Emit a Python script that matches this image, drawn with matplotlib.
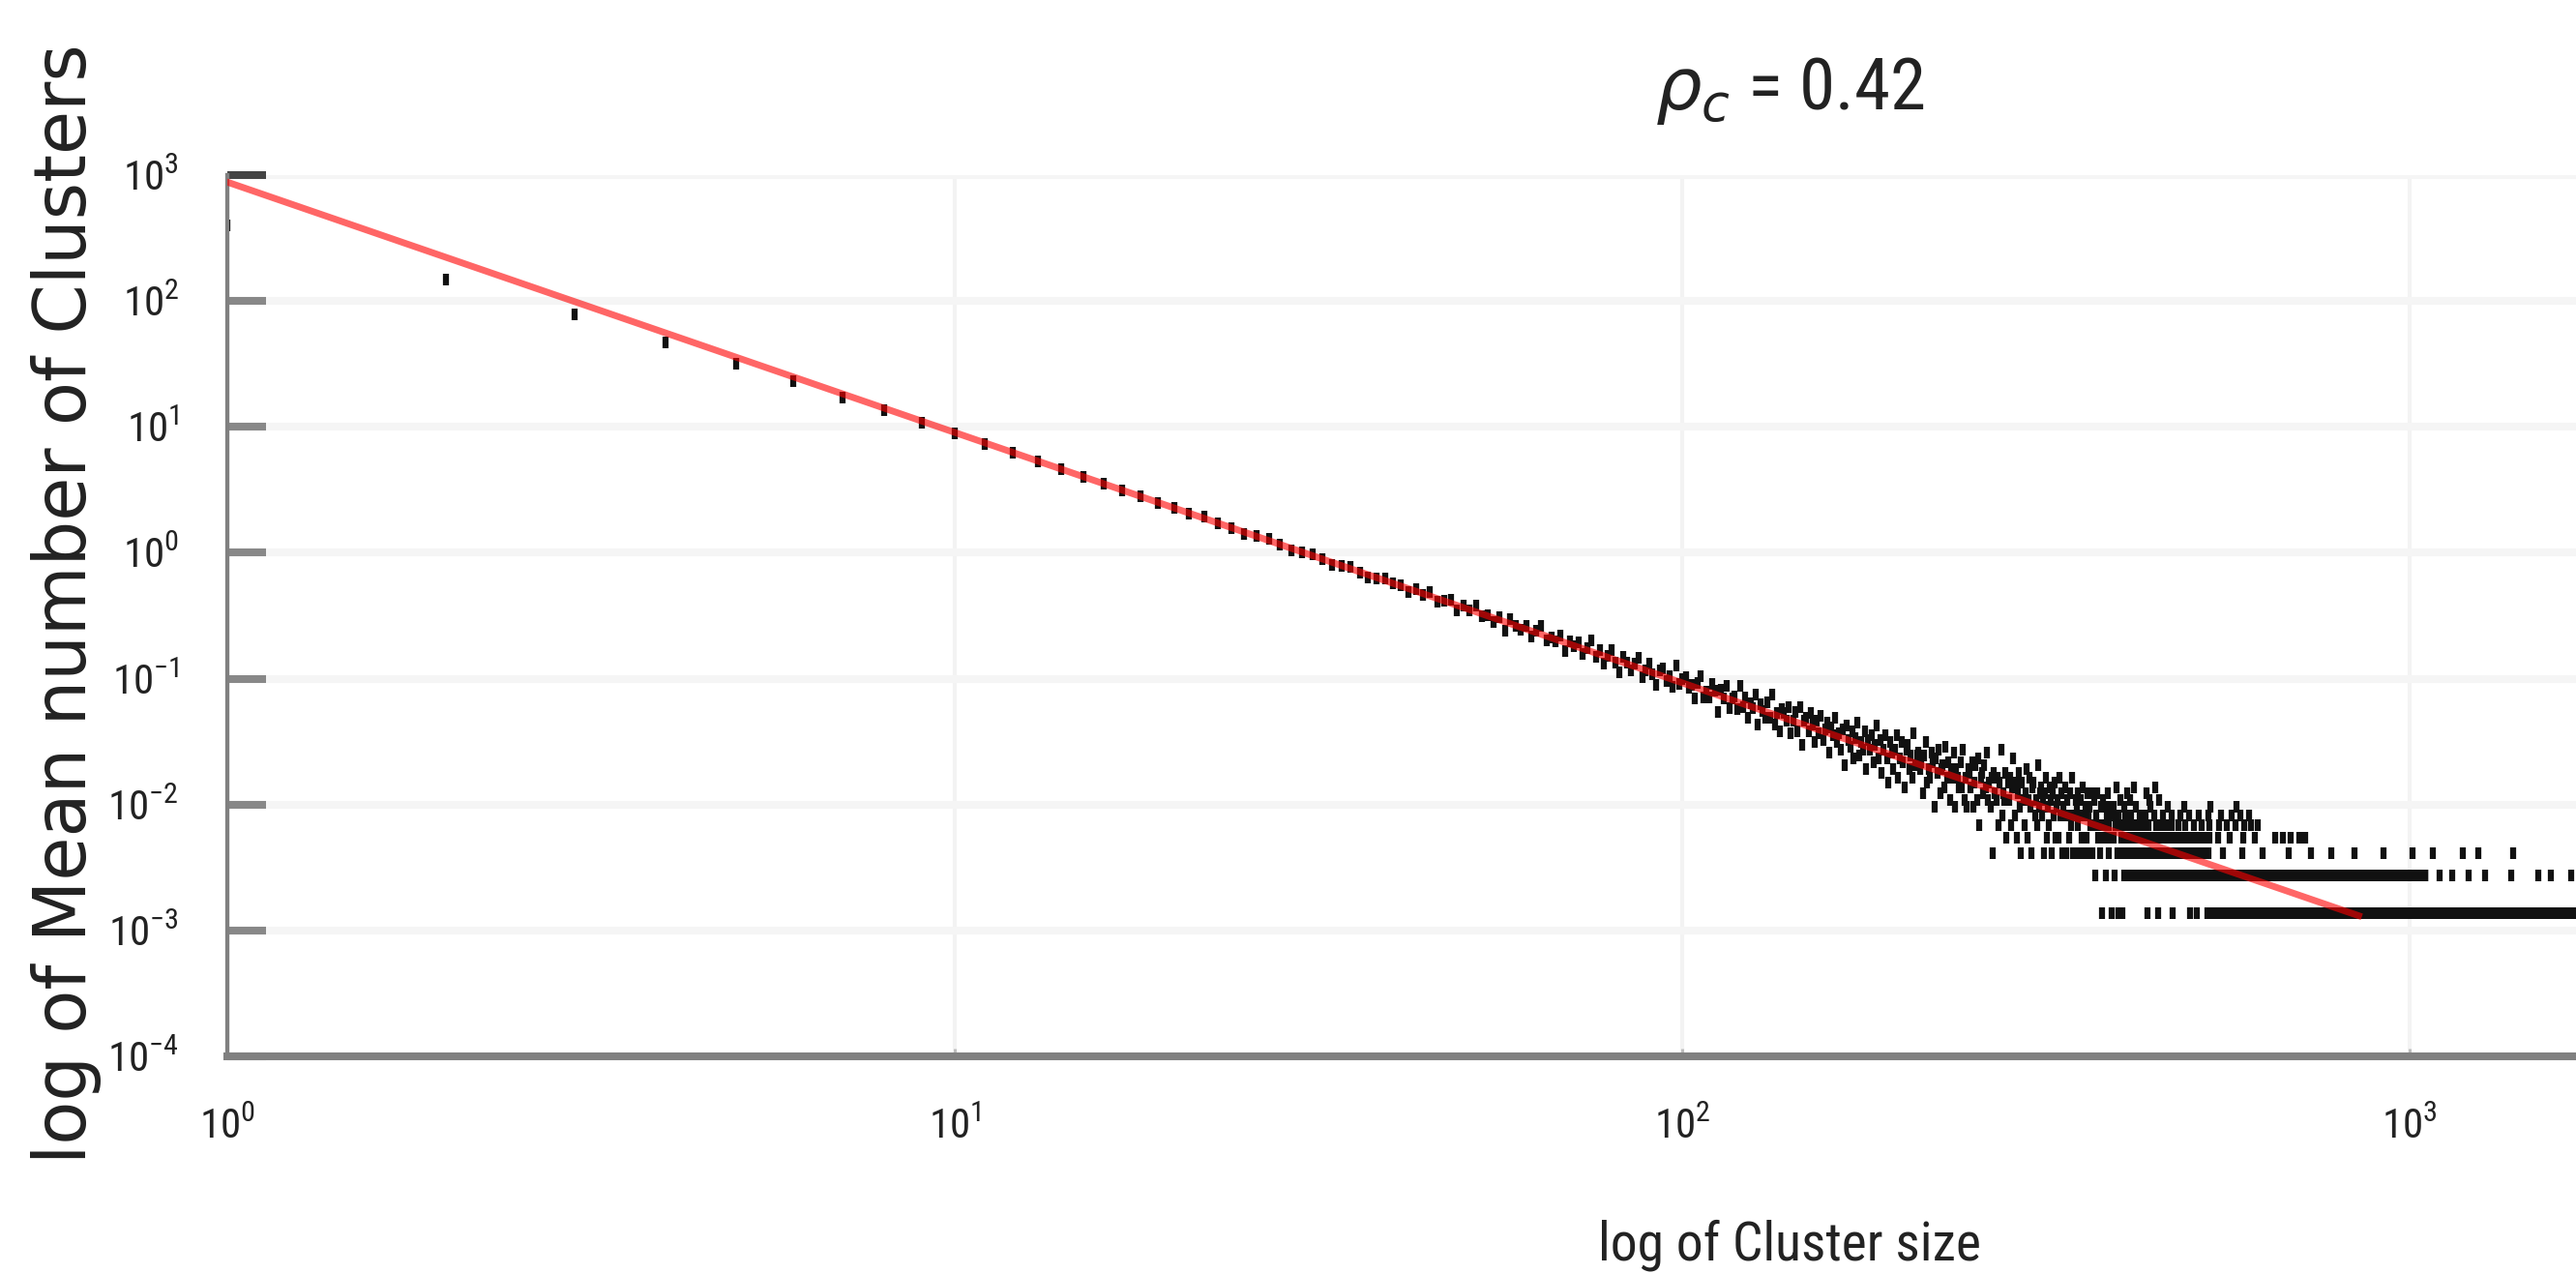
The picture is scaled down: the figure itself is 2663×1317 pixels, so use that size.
import matplotlib
matplotlib.use('Agg')
import matplotlib.pyplot as plt
from matplotlib.ticker import NullLocator
import numpy as np

plt.rcParams['font.family'] = ['Liberation Sans Narrow', 'Roboto Condensed', 'Noto Sans Condensed',
                               'Open Sans Condensed', 'DejaVu Sans Condensed', 'Liberation Sans',
                               'DejaVu Sans']
plt.rcParams['axes.unicode_minus'] = False

# number of simulation runs the counts are averaged over
n_runs = 735

# cluster sizes 1..40, mean number of clusters
sizes_head = np.arange(1, 41)
mean_head = [396, 148, 77.6, 47.0, 31.9, 23.0, 17.2, 13.5, 10.8, 8.85,
             7.36, 6.22, 5.31, 4.60, 4.02, 3.54, 3.12, 2.81, 2.50, 2.28,
             2.05, 1.93, 1.71, 1.58, 1.40, 1.35, 1.29, 1.17, 1.04, 1.01,
             0.98, 0.888, 0.80, 0.786, 0.775, 0.70, 0.64, 0.63, 0.625, 0.568]

# cluster sizes 41..400, total counts over all runs
sizes_body = np.arange(41, 401)
counts_body = [407, 357, 380, 340, 361, 303, 307, 311, 255, 279,
               257, 279, 231, 236, 208, 227, 178, 218, 194, 180,
               194, 159, 177, 193, 149, 156, 146, 163, 122, 146,
               132, 144, 115, 128, 148, 109, 124, 96, 111, 124,
               98, 83, 109, 98, 85, 97, 108, 76, 85, 97,
               79, 66, 85, 88, 70, 77, 63, 94, 67, 73,
               75, 62, 66, 51, 68, 77, 52, 58, 52, 67,
               59, 40, 60, 51, 64, 43, 51, 53, 42, 64,
               44, 52, 36, 47, 43, 55, 32, 46, 41, 36,
               48, 36, 55, 32, 39, 28, 42, 39, 34, 44,
               27, 34, 40, 28, 44, 22, 34, 36, 28, 39,
               32, 23, 34, 27, 37, 24, 29, 33, 19, 30,
               26, 36, 23, 27, 20, 29, 15, 31, 24, 21,
               28, 17, 25, 33, 18, 23, 20, 28, 14, 24,
               20, 26, 16, 22, 31, 17, 24, 13, 20, 26,
               17, 11, 23, 19, 14, 20, 26, 12, 17, 23,
               16, 10, 20, 22, 14, 18, 12, 27, 15, 18,
               19, 14, 16, 9, 18, 23, 11, 14, 12, 19,
               16, 7, 17, 13, 20, 9, 14, 15, 10, 21,
               12, 16, 8, 14, 12, 19, 7, 14, 12, 10,
               16, 10, 20, 8, 12, 7, 14, 13, 10, 16,
               7, 11, 15, 8, 17, 5, 12, 13, 9, 15,
               10, 19, 8, 11, 7, 12, 3, 13, 9, 8,
               12, 5, 11, 20, 6, 9, 8, 13, 4, 11,
               8, 12, 5, 10, 17, 6, 11, 4, 9, 13,
               7, 3, 11, 8, 5, 9, 14, 4, 8, 12,
               7, 3, 10, 11, 6, 8, 5, 15, 7, 9,
               10, 6, 8, 3, 9, 12, 4, 7, 5, 10,
               8, 3, 9, 6, 11, 4, 7, 8, 4, 12,
               6, 9, 3, 7, 6, 10, 3, 8, 6, 4,
               9, 5, 12, 3, 6, 3, 8, 7, 5, 9,
               3, 6, 8, 4, 10, 3, 6, 7, 4, 9,
               6, 3, 7, 5, 9, 3, 5, 8, 2, 6,
               5, 9, 4, 5, 3, 7, 1, 8, 5, 4,
               7, 2, 6, 9, 3, 5, 4, 7, 1, 6,
               4, 7, 2, 5, 10, 3, 6, 1, 5, 8]

# tail (> 400): the dense bands of small counts, as size ranges per count
band_count = [1, 2, 3, 4]
band_first = [530, 405, 401, 401]
band_last = [1700, 1050, 530, 530]
band_step = [1, 1, 2, 3]

# tail: single scattered sizes for each count level
tail_levels = [1, 2, 3, 4, 5, 6, 7, 8, 9, 10]
tail_sizes = [[402, 436, 451, 472, 499, 510, 527],
              [1097, 1144, 1205, 1270, 1379, 1499, 1563, 1663],
              [554, 589, 627, 681, 732, 779, 838, 920, 1009, 1076, 1181, 1243, 1384],
              [545, 566, 590, 612, 653, 668, 685, 705, 718],
              [403, 409, 415, 422, 430, 437, 448, 455, 462, 470, 480, 491, 505,
               517, 530, 547, 560, 575, 592, 605, 618],
              [406, 413, 425, 433, 445, 458, 471, 484, 497, 512, 528, 549, 568, 585, 600],
              [405, 420, 440, 465, 490, 532, 578],
              [412, 438, 452],
              [408, 434],
              [418, 446]]

# power-law fit drawn in red (end points)
fit_size = [1, 850]
fit_mean = [880, 1.31e-3]

xtick_vals = [1, 10, 100, 1000]
ytick_vals = [1e-4, 1e-3, 1e-2, 1e-1, 1, 10, 100, 1000]

# collect every point
xs = [sizes_head, sizes_body]
ys = [np.array(mean_head), np.array(counts_body) / n_runs]
for c, a, b, st in zip(band_count, band_first, band_last, band_step):
    s = np.arange(a, b + 1, st)
    xs.append(s)
    ys.append(np.full(len(s), c / n_runs))
for c, s in zip(tail_levels, tail_sizes):
    xs.append(np.array(s))
    ys.append(np.full(len(s), c / n_runs))
x_all = np.concatenate(xs)
y_all = np.concatenate(ys)

fig = plt.figure(figsize=(26.63, 13.17), dpi=100)
# the plot box runs on past the right edge of the picture
ax = fig.add_axes([235 / 2663, 1 - 1092 / 1317, 3230 / 2663, 911 / 1317])
ax.set_xscale('log')
ax.set_yscale('log')

ax.plot(x_all, y_all, ls='none', marker='|', ms=8, mew=4.5, color='#111111', zorder=2)
ax.plot(fit_size, fit_mean, color='red', alpha=0.6, lw=5, zorder=3)

ax.set_xlim(1, 19700)
ax.set_ylim(1e-4, 1e3)
ax.set_xticks(xtick_vals)
ax.set_yticks(ytick_vals)
ax.xaxis.set_minor_locator(NullLocator())
ax.yaxis.set_minor_locator(NullLocator())

for side in ['top', 'right']:
    ax.spines[side].set_visible(False)
ax.spines['left'].set_color('#808080')
ax.spines['left'].set_linewidth(3.1)
ax.spines['bottom'].set_color('#808080')
ax.spines['bottom'].set_linewidth(5.8)

ax.tick_params(axis='y', direction='in', length=29, width=5.8, color='#888888',
               pad=36, labelsize=31, labelcolor='#222222')
ax.tick_params(axis='x', direction='in', length=6, width=2.2, color='#bdbdbd',
               pad=38, labelsize=31, labelcolor='#222222')
ax.yaxis.get_major_ticks()[-1].tick1line.set_markeredgecolor('#444444')

ax.set_axisbelow(True)
ax.yaxis.grid(True, color='#f5f5f5', lw=5.8)
ax.xaxis.grid(True, color='#f3f3f3', lw=3)

ax.set_title(r'$\rho_c$ = 0.42', fontsize=54, pad=49, color='#222222')
ax.set_xlabel('log of Cluster size', fontsize=40, color='#222222')
ax.xaxis.set_label_coords(0.5, -0.2316)
ax.xaxis.label.set_va('baseline')
ax.set_ylabel('log of Mean number of Clusters', fontsize=53, color='#222222',
              family='DejaVu Sans')
ax.yaxis.set_label_coords(-0.0517, 0.5137)
ax.yaxis.label.set_va('center')

fig.savefig('out.png', dpi=100)
